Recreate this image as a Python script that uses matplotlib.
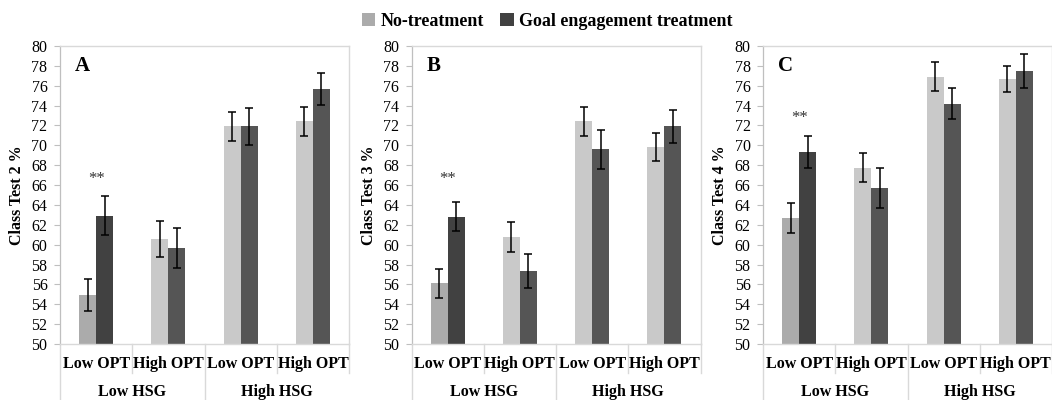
"""Class test scores by HSG / OPT group, no-treatment vs goal engagement."""

import matplotlib

matplotlib.use("Agg")
import matplotlib.pyplot as plt
import matplotlib.transforms as mtransforms
import numpy as np
from matplotlib.patches import Patch

plt.rcParams["font.family"] = ["Liberation Serif", "DejaVu Serif"]

# data
panel_letters = ["A", "B", "C"]
y_labels = ["Class Test 2 %", "Class Test 3 %", "Class Test 4 %"]
opt_labels = ["Low OPT", "High OPT", "Low OPT", "High OPT"]
hsg_labels = ["Low HSG", "High HSG"]
series_names = ["No-treatment", "Goal engagement treatment"]

no_treat_2 = [54.9, 60.6, 71.9, 72.4]
no_treat_2_err = [1.6, 1.8, 1.5, 1.45]
goal_2 = [62.9, 59.7, 71.9, 75.7]
goal_2_err = [1.95, 2.0, 1.9, 1.6]

no_treat_3 = [56.1, 60.8, 72.4, 69.8]
no_treat_3_err = [1.5, 1.5, 1.45, 1.4]
goal_3 = [62.8, 57.35, 69.6, 71.9]
goal_3_err = [1.45, 1.75, 1.95, 1.7]

no_treat_4 = [62.7, 67.75, 76.9, 76.7]
no_treat_4_err = [1.5, 1.45, 1.45, 1.3]
goal_4 = [69.3, 65.7, 74.2, 77.5]
goal_4_err = [1.6, 2.05, 1.55, 1.7]

star_y = [66.6, 66.6, 72.8]

panels = [
    (no_treat_2, no_treat_2_err, goal_2, goal_2_err),
    (no_treat_3, no_treat_3_err, goal_3, goal_3_err),
    (no_treat_4, no_treat_4_err, goal_4, goal_4_err),
]

# styling
LIGHT = ["#ababab", "#c9c9c9", "#c9c9c9", "#c9c9c9"]
DARK = ["#414141", "#555555", "#555555", "#555555"]
GRID = "#d9d9d9"
BAR_W = 0.235
lefts = [60 / 1052, 411.5 / 1052, 763 / 1052]
width = 289 / 1052
bottom = 1 - 344 / 400
height = (344 - 46) / 400

fig = plt.figure(figsize=(10.52, 4.0), dpi=100)

for k, (light, light_err, dark, dark_err) in enumerate(panels):
    ax = fig.add_axes([lefts[k], bottom, width, height])
    x = np.arange(len(opt_labels))
    ax.bar(x - BAR_W / 2, light, BAR_W, bottom=0, color=LIGHT, zorder=2)
    ax.bar(x + BAR_W / 2, dark, BAR_W, bottom=0, color=DARK, zorder=2)
    eb = dict(fmt="none", ecolor="black", elinewidth=1.1, capsize=3, capthick=1.1, zorder=3)
    ax.errorbar(x - BAR_W / 2, light, yerr=light_err, **eb)
    ax.errorbar(x + BAR_W / 2, dark, yerr=dark_err, **eb)

    ax.set_xlim(-0.5, 3.5)
    ax.set_ylim(50, 80)
    ax.set_yticks(np.arange(50, 81, 2))
    ax.set_xticks([])
    ax.tick_params(axis="y", length=4, width=0.8, color="#bfbfbf", pad=5, labelsize=11.5)
    for side in ["top", "right", "bottom"]:
        ax.spines[side].set_color(GRID)
        ax.spines[side].set_linewidth(1.0)
    ax.spines["left"].set_color("#bfbfbf")
    ax.spines["left"].set_linewidth(0.9)

    ax.set_ylabel(y_labels[k], fontsize=11.5, fontweight="bold")
    ax.yaxis.set_label_coords(-0.12, 0.5)

    ax.text(0.052, 0.933, panel_letters[k], transform=ax.transAxes,
            fontsize=15, fontweight="bold", ha="left", va="center")
    ax.text(0, star_y[k], "**", fontsize=12, color="#333333",
            ha="center", va="center")

    # two-level category axis
    tr = mtransforms.blended_transform_factory(ax.transData, ax.transAxes)
    for i, lab in enumerate(opt_labels):
        ax.text(i, -0.066, lab, transform=tr, ha="center", va="center",
                fontsize=11.5, fontweight="bold")
    for j, lab in enumerate(hsg_labels):
        ax.text(2 * j + 0.5, -0.162, lab, transform=tr, ha="center", va="center",
                fontsize=11.5, fontweight="bold")
    for xs, y_end in [(-0.5, -0.2), (0.5, -0.097), (1.5, -0.2), (2.5, -0.097), (3.5, -0.097)]:
        ax.plot([xs, xs], [0, y_end], transform=tr, color=GRID, lw=1.0, clip_on=False)

handles = [Patch(facecolor=LIGHT[0]), Patch(facecolor=DARK[0])]
fig.legend(handles, series_names, loc="center", bbox_to_anchor=(0.52, 0.947),
           ncol=2, frameon=False, handlelength=0.75, handleheight=0.75,
           handletextpad=0.3, columnspacing=0.9,
           prop={"size": 13, "weight": "bold"})

fig.savefig("out.png", dpi=100)
